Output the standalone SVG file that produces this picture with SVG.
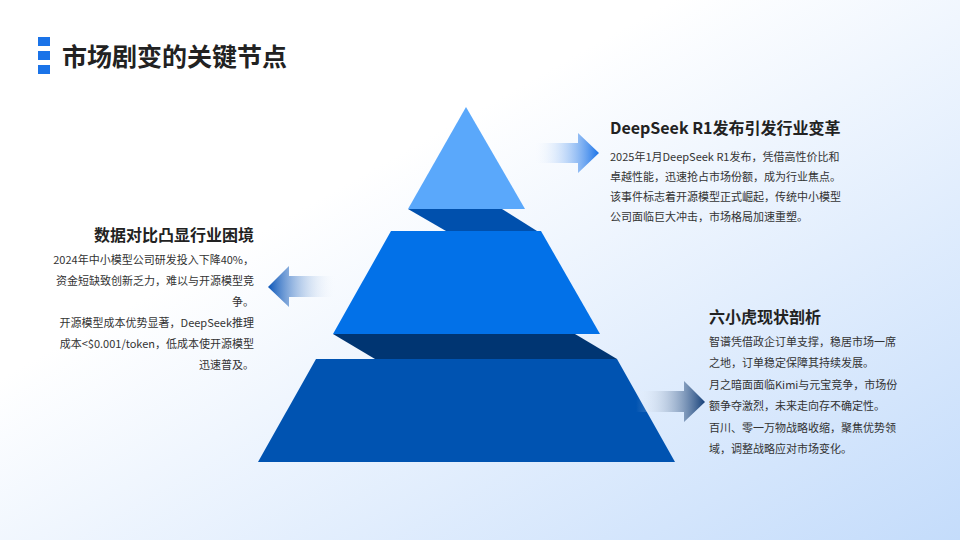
<svg xmlns="http://www.w3.org/2000/svg" width="960" height="540" viewBox="0 0 960 540">
<defs>
<linearGradient id="bg" x1="0" y1="0" x2="1" y2="1"><stop offset="0.35" stop-color="#ffffff"/><stop offset="1" stop-color="#c4dcfb"/></linearGradient>
<linearGradient id="a1" x1="0" x2="1"><stop offset="0" stop-color="#ffffff" stop-opacity="0"/><stop offset="1" stop-color="#1a73e8"/></linearGradient>
<linearGradient id="a2" x1="1" x2="0"><stop offset="0" stop-color="#ffffff" stop-opacity="0"/><stop offset="1" stop-color="#0a55b8"/></linearGradient>
<linearGradient id="a3" x1="0" x2="1"><stop offset="0" stop-color="#ffffff" stop-opacity="0"/><stop offset="1" stop-color="#143f78"/></linearGradient>
<style>
.h{font-family:"Noto Sans CJK SC","Noto Sans",sans-serif;font-weight:bold;fill:#222}
.b{font-family:"Noto Sans CJK SC","Noto Sans",sans-serif;font-size:11px;fill:#333}
</style>
</defs>
<rect width="960" height="540" fill="url(#bg)"/>
<g id="title">
<rect x="38" y="37" width="12" height="9" fill="#1a73e8"/><rect x="38" y="51" width="12" height="9" fill="#1a73e8"/><rect x="38" y="65" width="12" height="9" fill="#1a73e8"/>
<text x="62" y="66" class="h" font-size="25">市场剧变的关键节点</text>
</g>
<g id="pyramid">
<polygon points="408,209 502,209 537,231 446,231" fill="#0050ad"/>
<polygon points="333,334 575,334 617,359 375,359" fill="#003572"/>
<polygon points="466,107 408,209 525,209" fill="#5aa8fb"/>
<polygon points="391,231 541,231 600,334 333,334" fill="#0271e8"/>
<polygon points="316,359 617,359 675,462 258,462" fill="#0053b1"/>
</g>
<g id="connectors">
<polygon points="533,143 578,143 578,133 599,153 578,173 578,163 533,163" fill="url(#a1)"/>
<polygon points="337,276 289,276 289,266 268,287 289,307 289,297 337,297" fill="url(#a2)"/>
<polygon points="636,391 684,391 684,381 705,402 684,422 684,412 636,412" fill="url(#a3)"/>
</g>
<g id="n1">
<text x="610" y="134" class="h" font-size="16">DeepSeek R1发布引发行业变革</text>
<text class="b"><tspan x="610" y="161">2025年1月DeepSeek R1发布，凭借高性价比和</tspan><tspan x="610" y="181">卓越性能，迅速抢占市场份额，成为行业焦点。</tspan><tspan x="610" y="201">该事件标志着开源模型正式崛起，传统中小模型</tspan><tspan x="610" y="221">公司面临巨大冲击，市场格局加速重塑。</tspan></text>
</g>
<g id="n2" text-anchor="end">
<text x="254" y="241" class="h" font-size="16">数据对比凸显行业困境</text>
<text class="b"><tspan x="254" y="264">2024年中小模型公司研发投入下降40%，</tspan><tspan x="254" y="285">资金短缺致创新乏力，难以与开源模型竞</tspan><tspan x="254" y="306">争。</tspan><tspan x="254" y="327">开源模型成本优势显著，DeepSeek推理</tspan><tspan x="254" y="348">成本&lt;$0.001/token，低成本使开源模型</tspan><tspan x="254" y="369">迅速普及。</tspan></text>
</g>
<g id="n3">
<text x="709" y="323" class="h" font-size="16">六小虎现状剖析</text>
<text class="b"><tspan x="709" y="346">智谱凭借政企订单支撑，稳居市场一席</tspan><tspan x="709" y="367">之地，订单稳定保障其持续发展。</tspan><tspan x="709" y="389">月之暗面面临Kimi与元宝竞争，市场份</tspan><tspan x="709" y="410">额争夺激烈，未来走向存不确定性。</tspan><tspan x="709" y="432">百川、零一万物战略收缩，聚焦优势领</tspan><tspan x="709" y="453">域，调整战略应对市场变化。</tspan></text>
</g>
</svg>
